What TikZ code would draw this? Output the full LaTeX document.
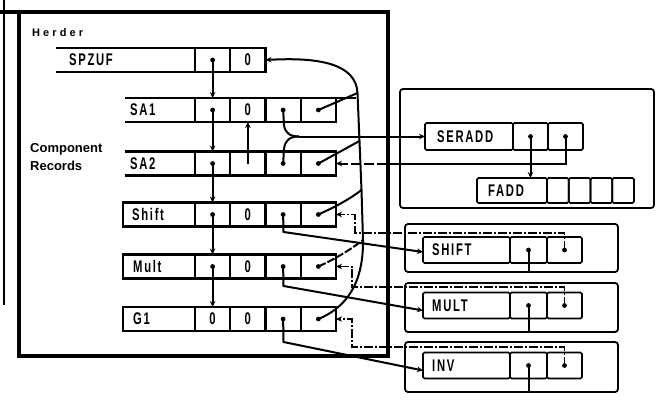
\documentclass[tikz,border=0pt]{standalone}
\usepackage{fontspec}
\usepackage{graphicx}
\setmainfont{Liberation Sans}
\newfontfamily\labfont[LetterSpace=15]{Liberation Sans}
\newfontfamily\herdfont[LetterSpace=28]{Liberation Sans}
\usetikzlibrary{arrows.meta,calc}
\newcommand\tl[1]{\scalebox{0.9}[1.35]{#1}}
\tikzset{
  lcell/.style={draw, line width=2.2pt, minimum height=24pt, minimum width=35.25pt, inner sep=0pt, outer sep=0pt,
     font=\labfont\bfseries\fontsize{12.5}{12.5}\selectfont},
  rcell/.style={draw, line width=1.7pt, rounded corners=1.5pt, minimum height=26pt, inner sep=0pt, outer sep=0pt},
  rbox/.style={draw, line width=1.8pt, rounded corners=3pt, inner sep=0pt, outer sep=0pt},
  lab/.style={font=\labfont\bfseries\fontsize{12.5}{12.5}\selectfont, inner sep=0pt},
  conn/.style={line width=2pt},
  ret/.style={line width=1.4pt, dash pattern=on 9pt off 2pt on 2pt off 2pt},
  frame/.style={line width=3.2pt},
  tip/.style={-{Stealth[length=6pt,width=5.5pt]}},
}
\begin{document}
\begin{tikzpicture}[x=1pt,y=-1pt]
\useasboundingbox (0,0) rectangle (659,404);
% outer frame
\draw[frame] (0,12) -- (388,12);
\draw[frame] (19,10) -- (19,357.5);
\draw[frame,line width=3.8pt] (17,356) -- (389.6,356);
\draw[frame] (388,10.4) -- (388,357.5);
\draw[line width=2.6pt] (4,0) -- (4,305);
% left texts
\node[font=\herdfont\bfseries\fontsize{11}{11}\selectfont, anchor=base west, inner sep=0pt] (herder) at (32,37) {Herder};
\node[font=\bfseries\fontsize{13}{13}\selectfont, anchor=base west, inner sep=0pt] (comp) at (30,152) {Component};
\node[font=\bfseries\fontsize{13}{13}\selectfont, anchor=base west, inner sep=0pt] (recs) at (30,170) {Records};
% left records
\foreach \r/\y in {sa1/110, sa2/163.5, sh/214.5, mu/266.5, gi/319}{
  \foreach \i/\x in {1/212.625, 2/247.875, 3/283.125, 4/318.375}{
    \node[lcell] (\r-\i) at (\x,\y) {};
  }
}
\node[lcell] (spz-1) at (212.625,60) {};
\node[lcell] (spz-2) at (247.875,60) {\tl{0}};
\node[lcell] at (sa1-2) {\tl{0}};
\node[lcell] at (sh-2) {\tl{0}};
\node[lcell] at (mu-2) {\tl{0}};
\node[lcell] at (gi-1) {\tl{0}};
\node[lcell] at (gi-2) {\tl{0}};
% name fields
\node[minimum width=139pt, minimum height=24pt, inner sep=0pt, outer sep=0pt] (spz-n) at (125.5,60) {};
\node[minimum width=70pt, minimum height=24pt, inner sep=0pt, outer sep=0pt] (sa1-n) at (160,110) {};
\node[minimum width=70pt, minimum height=24pt, inner sep=0pt, outer sep=0pt] (sa2-n) at (160,163.5) {};
\draw[line width=2.2pt] (spz-n.north west) -- (spz-1.north west);
\draw[line width=2.2pt] (spz-n.south west) -- (spz-1.south west);
\coordinate (sa1ext) at (356,98);
\draw[line width=2.2pt] (sa1-n.north west) -- (sa1ext);
\draw[line width=2.2pt] (sa1-n.south west) -- (sa1-1.south west);
\draw[line width=2.2pt] (sa2-n.north west) -- (sa2-1.north west);
\draw[line width=2.2pt] (sa2-n.south west) -- (sa2-1.south west);
\node[lcell, minimum width=72pt] (sh-n) at (159,214.5) {};
\node[lcell, minimum width=72pt] (mu-n) at (159,266.5) {};
\node[lcell, minimum width=72pt] (gi-n) at (159,319) {};
\node[lab, anchor=west] (spz-t) at (69,60) {\tl{SPZUF}};
\node[lab, anchor=west] (sa1-t) at (130,110) {\tl{SA1}};
\node[lab, anchor=west] (sa2-t) at (130,164) {\tl{SA2}};
\node[lab, anchor=west] (sh-t) at (132,214.5) {\tl{Shift}};
\node[lab, anchor=west] (mu-t) at (133,266.5) {\tl{Mult}};
\node[lab, anchor=west] (gi-t) at (133,319) {\tl{G1}};
% right boxes
\node[rbox, minimum width=254pt, minimum height=119pt] (SEb) at (527,148.5) {};
\node[rbox, minimum width=213pt, minimum height=48pt] (SHb) at (511.5,248) {};
\node[rbox, minimum width=213pt, minimum height=49pt] (MUb) at (511.5,307.5) {};
\node[rbox, minimum width=213pt, minimum height=50pt] (INb) at (511.5,367) {};
% right records
\node[rcell, minimum width=88pt, minimum height=27pt] (SE-n) at (469,136.5) {};
\node[rcell, minimum width=35pt, minimum height=27pt] (SE-2) at (530.5,136.5) {};
\node[rcell, minimum width=35pt, minimum height=27pt] (SE-3) at (565.5,136.5) {};
\node[rcell, minimum width=70pt, minimum height=25pt] (FA-n) at (512,190.5) {};
\foreach \i/\x in {1/557.9, 2/579.6, 3/601.4, 4/623.1}{
  \node[rcell, minimum width=21.75pt, minimum height=25pt] (FA-\i) at (\x,190.5) {};
}
\foreach \r/\y in {SH/250, MU/305.5, IN/365.5}{
  \node[rcell, minimum width=87pt] (\r-n) at (466.5,\y) {};
  \node[rcell, minimum width=37pt] (\r-2) at (528.5,\y) {};
  \node[rcell, minimum width=35pt] (\r-3) at (564.5,\y) {};
}
\node[lab, anchor=west] (SE-t) at (437,137) {\tl{SERADD}};
\node[lab, anchor=west] (FA-t) at (488,191) {\tl{FADD}};
\node[lab, anchor=west] (SH-t) at (432,250) {\tl{SHIFT}};
\node[lab, anchor=west] (MU-t) at (432,305.5) {\tl{MULT}};
\node[lab, anchor=west] (IN-t) at (432,365.5) {\tl{INV}};
% chain arrows
\draw[conn,tip] (spz-1.center) -- (sa1-1.north);
\draw[conn,tip] (sa1-1.center) -- (sa2-1.north);
\draw[conn,tip] (sa2-1.center) -- (sh-1.north);
\draw[conn,tip] (sh-1.center) -- (mu-1.north);
\draw[conn,tip] (mu-1.center) -- (gi-1.north);
\draw[conn,tip] (sa2-2.center) -- (sa1-2.south);
% to SERADD
\coordinate (jn) at (299,136.5);
\draw[conn] (sa1-3.center) -- (284,125) .. controls (285,133) and (290,136.5) .. (jn);
\draw[conn] (sa2-3.center) -- (284,149) .. controls (285,140) and (290,136.5) .. (jn);
\draw[conn,tip] (jn) -- (SE-n.west);
\draw[conn,tip] (SE-2.center) -- (SE-2.center |- FA-n.north);
\coordinate (sar) at (400,163.5);
\draw[conn] (SE-3.center) |- (sar);
\draw[conn,tip,dash pattern=on 10pt off 3pt] (sar) -- (sa2-4.east);
% bus back to SPZUF
\coordinate (b1) at (357.5,93);
\coordinate (b2) at (359.5,141);
\coordinate (b3) at (361.5,190);
\coordinate (b4) at (363,240);
\draw[conn,tip] (gi-4.center) .. controls (345,308) and (363.5,285) .. (b4) -- (b3) -- (b2) -- (b1) .. controls (356,64) and (320,57) .. (spz-2.east);
\draw[conn] (sa1-4.center) -- (b1);
\draw[conn] (sa2-4.center) -- (b2);
\draw[conn] (sh-4.center) .. controls (335,207) and (350,199) .. (b3);
\draw[conn,dash pattern=on 8pt off 2pt] (mu-4.center) .. controls (335,259) and (350,250) .. (b4);
% returns from right records
\coordinate (shr) at (355,233);
\coordinate (mur) at (352,287);
\coordinate (gir) at (352,347);
\draw[ret,tip] (SH-3.center) |- (shr) |- (sh-4.east);
\draw[ret,tip] (MU-3.center) |- (mur) |- (mu-4.east);
\draw[ret,tip] (IN-3.center) |- (gir) |- (gi-4.east);
% diagonals to right records
\coordinate (shd) at (283.5,232);
\coordinate (mud) at (283.5,286);
\coordinate (gid) at (283.5,342);
\draw[conn,tip] (sh-3.center) -- (shd) -- ($(SH-n.west)+(0,2)$);
\draw[conn,tip] (mu-3.center) -- (mud) -- ($(MU-n.west)+(0,5)$);
\draw[conn,tip] (gi-3.center) -- (gid) -- ($(IN-n.west)+(0,5)$);
% verticals down from cell 2
\draw[conn] (SH-2.center) -- (SH-2.center |- SHb.south);
\draw[conn] (MU-2.center) -- (MU-2.center |- MUb.south);
\draw[conn] (IN-2.center) -- (IN-2.center |- INb.south);
% dots
\foreach \n in {spz-1, sa1-1, sa1-3, sa1-4, sa2-1, sa2-3, sa2-4, sh-1, sh-3, sh-4, mu-1, mu-3, mu-4, gi-3, gi-4, SE-2, SE-3, SH-2, SH-3, MU-2, MU-3, IN-2, IN-3}{
  \fill (\n.center) circle (2.4pt);
}
\end{tikzpicture}
\end{document}
